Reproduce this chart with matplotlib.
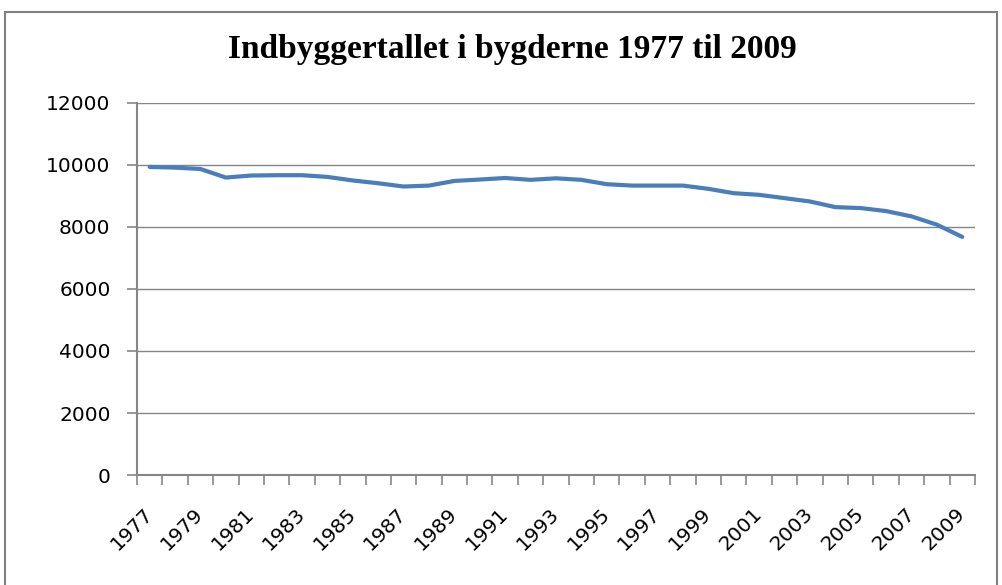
import matplotlib
matplotlib.use("Agg")
import matplotlib.pyplot as plt
from matplotlib.patches import Rectangle
import numpy as np

years = list(range(1977, 2010))
population = [9936, 9915, 9870, 9594, 9660, 9670, 9670, 9615, 9500, 9410,
              9305, 9335, 9485, 9530, 9580, 9520, 9570, 9520, 9380, 9335,
              9335, 9335, 9230, 9090, 9037, 8930, 8823, 8640, 8610, 8513,
              8342, 8075, 7680]
y_ticks = [0, 2000, 4000, 6000, 8000, 10000, 12000]

GRID = "#868686"
LINE = "#4a7ebb"
TICKFONT = dict(fontsize=14.5, family="DejaVu Sans")

fig = plt.figure(figsize=(10.02, 5.85), dpi=100)
fig.patches.append(Rectangle((0.005, -0.01), 0.99, 0.99, transform=fig.transFigure,
                             fill=False, edgecolor="#808080", lw=1.5))
ax = fig.add_axes([0.1367, 0.188, 0.8363, 0.636])

x = np.arange(len(years))
ax.plot(x, population, color=LINE, lw=3, solid_capstyle="round", solid_joinstyle="round")

ax.set_xlim(-0.5, len(years) - 0.5)
ax.set_ylim(0, 12000)
ax.set_yticks(y_ticks)
ax.set_yticklabels([str(v) for v in y_ticks], **TICKFONT)
ax.yaxis.grid(True, color=GRID, lw=1)
ax.set_axisbelow(True)

ax.set_xticks(x[::2])
ax.set_xticklabels([str(y) for y in years[::2]], rotation=45, ha="right", va="center",
                   rotation_mode="anchor", **TICKFONT)
ax.set_xticks(np.arange(-0.5, len(years)), minor=True)
ax.tick_params(axis="x", which="major", length=0, pad=26)
ax.tick_params(axis="x", which="minor", length=7, color=GRID, width=1.2)
ax.tick_params(axis="y", length=7, color=GRID, width=1.2, pad=12)

for s in ("top", "right"):
    ax.spines[s].set_visible(False)
for s in ("left", "bottom"):
    ax.spines[s].set_color(GRID)
    ax.spines[s].set_linewidth(1.5)

fig.text(0.511, 0.915, "Indbyggertallet i bygderne 1977 til 2009", ha="center", va="center",
         fontsize=24, fontweight="bold", family="Liberation Serif")

fig.savefig("out.png", dpi=100)
